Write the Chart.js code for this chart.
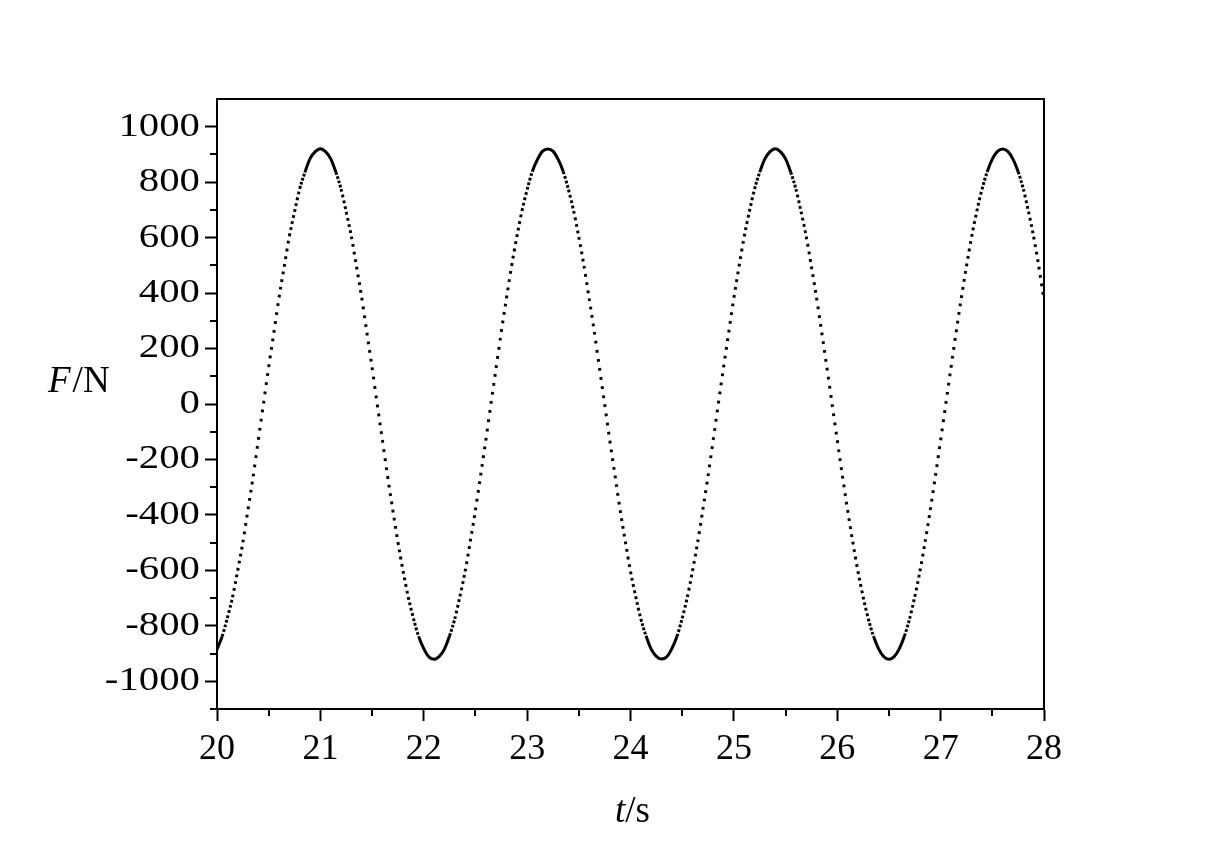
<!DOCTYPE html>
<html>
<head>
<meta charset="utf-8">
<script src="https://cdn.jsdelivr.net/npm/chart.js@4.4.1/dist/chart.umd.min.js"></script>
<style>
  html, body { margin: 0; padding: 0; background: #ffffff; }
  #wrap { width: 1212px; height: 851px; position: relative; }
</style>
</head>
<body>
<div id="wrap"><canvas id="c" width="1212" height="851"></canvas></div>
<script>
const startTime = 20;
const sampleStep = 0.05;
const forceStart = [-885,-838,-772,-697,-601,-499,-380,-261,-129,2,133,257,384,495,605,693,776,835,885,910];
const forceCycle1 = [921,910,884,836,775,693,604,495,383,257,132,-2,-130,-260,-381,-498,-602,-696,-773,-838,-882,-912,-921,-910,-884,-836,-775,-694,-604,-496,-383,-258,-132,1,130,260,381,498,602,696,773,838,882,912];
const forceCycle2 = [920,912,882,838,773,696,602,498,381,260,130,-1,-132,-258,-383,-496,-604,-694,-775,-836,-884,-910,-920,-912,-882,-838,-773,-696,-602,-498,-381,-260,-130,2,132,258,383,496,604,694,775,836,884,910];
const forceCycle3 = [921,910,884,836,775,694,604,496,383,258,131,0,-131,-259,-382,-497,-603,-695,-774,-837,-883,-911,-921,-911,-883,-837,-774,-695,-603,-497,-382,-259,-131,0,131,259,382,497,603,695,774,837,883,911];
const forceEnd = [920,911,883,838,775,694,603,495,375];

const xTickLabels = [20,21,22,23,24,25,26,27,28];
const xMinorTicks = [20.5,21.5,22.5,23.5,24.5,25.5,26.5,27.5];
const yTickLabels = [-1000,-800,-600,-400,-200,0,200,400,600,800,1000];
const yMinorTicks = [-1100,-900,-700,-500,-300,-100,100,300,500,700,900];
const xRange = [20, 28];
const yRange = [-1100, 1100];

const forceAll = [].concat(forceStart, forceCycle1, forceCycle2, forceCycle3, forceEnd);
const points = forceAll.map((f, i) => ({ x: +(startTime + i * sampleStep).toFixed(2), y: f }));

const FONT = '"Liberation Serif", "Times New Roman", serif';
const Y_LABEL_STRETCH = 1.2;

const framePlugin = {
  id: 'frame',
  beforeDraw(chart) {
    const ys = chart.scales.y;
    if (ys && !ys._stretchPatched) {
      const orig = ys.drawLabels.bind(ys);
      ys.drawLabels = function (area) {
        const ctx = this.ctx;
        const anchor = this.right - 12 - 5;
        ctx.save();
        ctx.translate(anchor, 0);
        ctx.scale(Y_LABEL_STRETCH, 1);
        ctx.translate(-anchor, 0);
        orig(area);
        ctx.restore();
      };
      ys._stretchPatched = true;
    }
  },
  afterDraw(chart) {
    const { ctx, chartArea: a, scales } = chart;
    ctx.save();
    ctx.strokeStyle = '#000';
    ctx.lineWidth = 2;
    ctx.beginPath();
    ctx.moveTo(a.left, a.top); ctx.lineTo(a.right, a.top); ctx.lineTo(a.right, a.bottom);
    ctx.stroke();
    ctx.beginPath();
    yMinorTicks.forEach(v => {
      const y = Math.round(scales.y.getPixelForValue(v));
      ctx.moveTo(a.left - 7, y); ctx.lineTo(a.left, y);
    });
    xMinorTicks.forEach(v => {
      const x = Math.round(scales.x.getPixelForValue(v));
      ctx.moveTo(x, a.bottom); ctx.lineTo(x, a.bottom + 7);
    });
    ctx.stroke();
    ctx.fillStyle = '#000';
    ctx.textBaseline = 'alphabetic';
    ctx.textAlign = 'left';
    // y title: F/N
    ctx.font = 'italic 37px ' + FONT;
    const x0 = 48, yb = 392;
    ctx.fillText('F', x0, yb);
    const w = ctx.measureText('F').width;
    ctx.font = '37px ' + FONT;
    ctx.fillText('/N', x0 + w + 2, yb);
    // x title: t/s
    ctx.font = 'italic 37px ' + FONT;
    const wt = ctx.measureText('t').width;
    ctx.font = '37px ' + FONT;
    const ws = ctx.measureText('/s').width;
    const cx = (a.left + a.right) / 2 + 2;
    const xs = cx - (wt + ws) / 2;
    ctx.font = 'italic 37px ' + FONT;
    ctx.fillText('t', xs, 822);
    ctx.font = '37px ' + FONT;
    ctx.fillText('/s', xs + wt, 822);
    ctx.restore();
  }
};

new Chart(document.getElementById('c'), {
  type: 'line',
  data: {
    datasets: [{
      data: points,
      borderColor: '#000',
      borderWidth: 3,
      pointRadius: 0,
      fill: false,
      cubicInterpolationMode: 'monotone',
      borderCapStyle: 'butt',
      segment: {
        borderDash: (ctx) => {
          const dx = Math.abs(ctx.p1.x - ctx.p0.x) || 1;
          const dy = Math.abs(ctx.p1.y - ctx.p0.y);
          const s = dy / dx;
          const spacing = 1.3 * Math.sqrt(1 + s * s);
          const dot = 2.8;
          if (spacing - dot < 1.0) return [];
          return [dot, spacing - dot];
        }
      }
    }]
  },
  options: {
    responsive: false,
    animation: false,
    events: [],
    layout: { padding: { left: 0, top: 99, right: 168, bottom: 0 } },
    plugins: { legend: { display: false }, tooltip: { enabled: false } },
    scales: {
      x: {
        type: 'linear',
        min: xRange[0], max: xRange[1],
        afterBuildTicks: (scale) => { scale.ticks = xTickLabels.map(v => ({ value: v })); },
        afterFit: (scale) => { scale.height = 142; },
        grid: { drawOnChartArea: false, drawTicks: true, tickLength: 12, tickWidth: 2, tickColor: '#000' },
        border: { display: true, color: '#000', width: 2 },
        ticks: { color: '#000', padding: 7, font: { family: FONT, size: 36 }, maxRotation: 0, callback: (v) => String(v) }
      },
      y: {
        type: 'linear',
        min: yRange[0], max: yRange[1],
        afterBuildTicks: (scale) => { scale.ticks = yTickLabels.map(v => ({ value: v })); },
        afterFit: (scale) => { scale.width = 217; },
        grid: { drawOnChartArea: false, drawTicks: true, tickLength: 12, tickWidth: 2, tickColor: '#000' },
        border: { display: true, color: '#000', width: 2 },
        ticks: { color: '#000', padding: 5, font: { family: FONT, size: 34 }, callback: (v) => String(v) }
      }
    }
  },
  plugins: [framePlugin]
});
</script>
</body>
</html>
